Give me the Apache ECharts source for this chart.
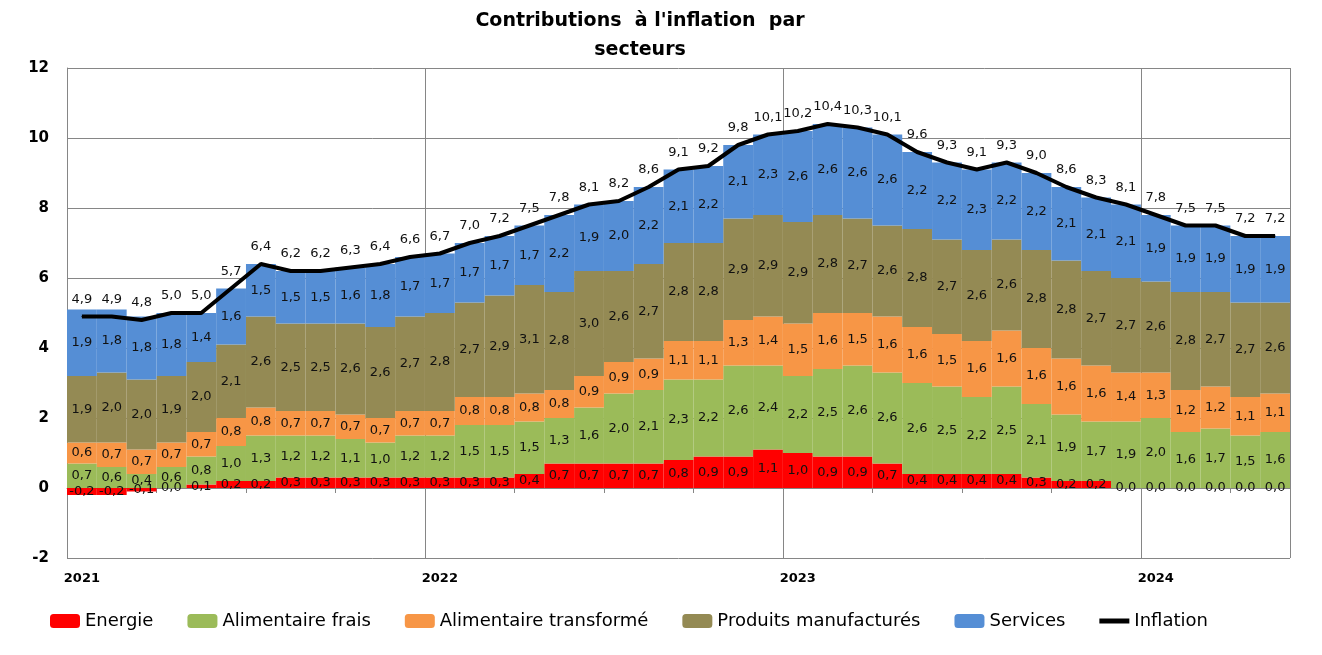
<!DOCTYPE html>
<html>
<head>
<meta charset="utf-8">
<script src="https://cdn.jsdelivr.net/npm/echarts@6/dist/echarts.min.js"></script>
<style>
html,body{margin:0;padding:0;background:#fff;}
#chart{width:1322px;height:655px;}
</style>
</head>
<body>
<div id="chart"></div>
<script>
const categories = ['2021-01','2021-02','2021-03','2021-04','2021-05','2021-06','2021-07','2021-08','2021-09','2021-10','2021-11','2021-12',
  '2022-01','2022-02','2022-03','2022-04','2022-05','2022-06','2022-07','2022-08','2022-09','2022-10','2022-11','2022-12',
  '2023-01','2023-02','2023-03','2023-04','2023-05','2023-06','2023-07','2023-08','2023-09','2023-10','2023-11','2023-12',
  '2024-01','2024-02','2024-03','2024-04','2024-05'];
const energie = [-0.2,-0.2,-0.1,0.0,0.1,0.2,0.2,0.3,0.3,0.3,0.3,0.3,
  0.3,0.3,0.3,0.4,0.7,0.7,0.7,0.7,0.8,0.9,0.9,1.1,
  1.0,0.9,0.9,0.7,0.4,0.4,0.4,0.4,0.3,0.2,0.2,0.0,
  0.0,0.0,0.0,0.0,0.0];
const alimFrais = [0.7,0.6,0.4,0.6,0.8,1.0,1.3,1.2,1.2,1.1,1.0,1.2,
  1.2,1.5,1.5,1.5,1.3,1.6,2.0,2.1,2.3,2.2,2.6,2.4,
  2.2,2.5,2.6,2.6,2.6,2.5,2.2,2.5,2.1,1.9,1.7,1.9,
  2.0,1.6,1.7,1.5,1.6];
const alimTransf = [0.6,0.7,0.7,0.7,0.7,0.8,0.8,0.7,0.7,0.7,0.7,0.7,
  0.7,0.8,0.8,0.8,0.8,0.9,0.9,0.9,1.1,1.1,1.3,1.4,
  1.5,1.6,1.5,1.6,1.6,1.5,1.6,1.6,1.6,1.6,1.6,1.4,
  1.3,1.2,1.2,1.1,1.1];
const manuf = [1.9,2.0,2.0,1.9,2.0,2.1,2.6,2.5,2.5,2.6,2.6,2.7,
  2.8,2.7,2.9,3.1,2.8,3.0,2.6,2.7,2.8,2.8,2.9,2.9,
  2.9,2.8,2.7,2.6,2.8,2.7,2.6,2.6,2.8,2.8,2.7,2.7,
  2.6,2.8,2.7,2.7,2.6];
const services = [1.9,1.8,1.8,1.8,1.4,1.6,1.5,1.5,1.5,1.6,1.8,1.7,
  1.7,1.7,1.7,1.7,2.2,1.9,2.0,2.2,2.1,2.2,2.1,2.3,
  2.6,2.6,2.6,2.6,2.2,2.2,2.3,2.2,2.2,2.1,2.1,2.1,
  1.9,1.9,1.9,1.9,1.9];
const inflation = [4.9,4.9,4.8,5.0,5.0,5.7,6.4,6.2,6.2,6.3,6.4,6.6,
  6.7,7.0,7.2,7.5,7.8,8.1,8.2,8.6,9.1,9.2,9.8,10.1,
  10.2,10.4,10.3,10.1,9.6,9.3,9.1,9.3,9.0,8.6,8.3,8.1,
  7.8,7.5,7.5,7.2,7.2];
const seriesNames = ['Energie','Alimentaire frais','Alimentaire transformé','Produits manufacturés','Services','Inflation'];
const yTicks = {min: -2, max: 12, interval: 2};

const FONT = 'DejaVu Sans';
const GRID_COLOR = '#868686';
const fmt = v => Number(v).toFixed(1).replace('.', ',');

function barSeries(name, data, color) {
  return {
    name, type: 'bar', stack: 'total', data,
    barCategoryGap: '0%',
    itemStyle: {color},
    label: {
      show: true, position: 'inside', color: '#111',
      fontFamily: FONT, fontSize: 13,
      formatter: p => fmt(p.value)
    },
    emphasis: {disabled: true}
  };
}

const chart = echarts.init(document.getElementById('chart'), null, {renderer: 'canvas'});
chart.setOption({
  animation: false,
  backgroundColor: '#fff',
  title: {
    text: "Contributions  à l'inflation  par\nsecteurs",
    left: 635, top: 2, textAlign: 'center',
    textStyle: {fontFamily: FONT, fontWeight: 'bold', fontSize: 19, lineHeight: 29, color: '#000'}
  },
  legend: {
    data: seriesNames.slice(0, 5).concat([{name: seriesNames[5], icon: 'path://M0,0H30V5H0Z'}]),
    left: 45, top: 607,
    itemWidth: 30, itemHeight: 14, itemGap: 34,
    textStyle: {fontFamily: FONT, fontSize: 18, color: '#000'}
  },
  grid: {left: 67, right: 32, top: 68, bottom: 97, containLabel: false},
  xAxis: [
    {
      type: 'category', data: categories, position: 'bottom',
      boundaryGap: true,
      axisLine: {show: false, onZero: false},
      axisTick: {show: false},
      axisLabel: {
        interval: 11, margin: 14,
        fontFamily: FONT, fontWeight: 'bold', fontSize: 13, color: '#000',
        formatter: v => v.slice(0, 4)
      },
      splitLine: {show: true, interval: 11, lineStyle: {color: GRID_COLOR, width: 1}}
    },
    {
      type: 'category', data: categories, position: 'bottom',
      boundaryGap: true,
      axisLine: {show: true, onZero: true, lineStyle: {color: GRID_COLOR, width: 1}},
      axisTick: {show: true, interval: 2, length: 5, lineStyle: {color: GRID_COLOR}},
      axisLabel: {show: false},
      splitLine: {show: false}
    }
  ],
  yAxis: {
    type: 'value', min: yTicks.min, max: yTicks.max, interval: yTicks.interval,
    axisLine: {show: true, lineStyle: {color: GRID_COLOR, width: 1}},
    axisTick: {show: false},
    axisLabel: {fontFamily: FONT, fontWeight: 'bold', fontSize: 15, color: '#000', margin: 18},
    splitLine: {show: true, lineStyle: {color: GRID_COLOR, width: 1}}
  },
  series: [
    barSeries(seriesNames[0], energie, '#FF0000'),
    barSeries(seriesNames[1], alimFrais, '#9BBB59'),
    barSeries(seriesNames[2], alimTransf, '#F79646'),
    barSeries(seriesNames[3], manuf, '#948A54'),
    barSeries(seriesNames[4], services, '#558ED5'),
    {
      name: seriesNames[5], type: 'line', data: inflation,
      symbol: 'circle', symbolSize: 1, showSymbol: true, showAllSymbol: true, z: 10,
      lineStyle: {color: '#000', width: 4},
      itemStyle: {color: '#000'},
      label: {
        show: true, position: 'top', distance: 10, color: '#111',
        fontFamily: FONT, fontSize: 13,
        formatter: p => fmt(p.value)
      },
      emphasis: {disabled: true}
    }
  ]
});
</script>
</body>
</html>
